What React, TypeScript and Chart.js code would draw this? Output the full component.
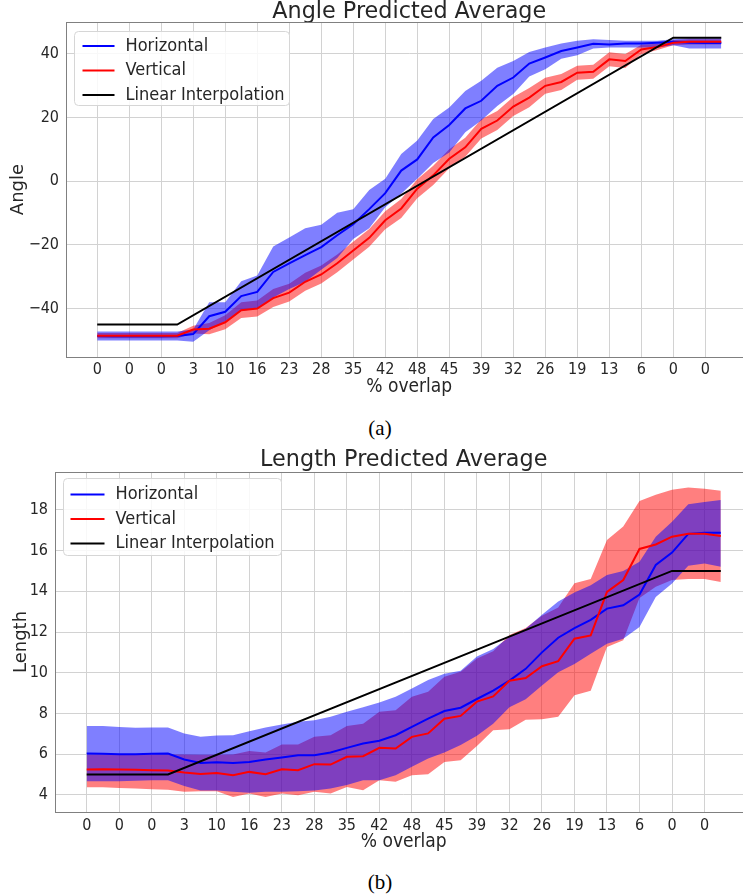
import React, { useEffect, useRef } from "react";
import { Chart, registerables } from "chart.js";
Chart.register(...registerables);

const overlapLabels = ["0", "0", "0", "3", "10", "16", "23", "28", "35", "42", "48", "45", "39", "32", "26", "19", "13", "6", "0", "0"];

// ---- Angle (a) ----
const angleH = [-48.6, -48.7, -48.7, -48.7, -48.7, -48.6, -48.0, -42.4, -41.0, -36.1, -34.8, -28.5, -25.8, -23.2, -20.7, -17.0, -13.5, -8.8, -3.8, 3.3, 6.8, 13.7, 17.6, 22.8, 25.2, 29.9, 32.5, 36.9, 38.8, 40.8, 41.9, 43.1, 42.9, 43.2, 43.2, 43.4, 43.7, 43.4, 43.3, 43.3];
const angleHUpper = [-47.2, -47.2, -47.2, -47.2, -47.2, -47.2, -46.6, -38.0, -38.0, -31.4, -29.6, -20.5, -17.7, -14.8, -13.7, -9.9, -8.8, -2.8, 0.7, 8.5, 12.7, 19.5, 23.1, 28.3, 31.5, 35.6, 37.7, 40.5, 41.9, 43.2, 44.0, 44.5, 44.3, 44.0, 44.0, 44.0, 44.5, 44.8, 44.8, 44.8];
const angleHLower = [-50.0, -50.0, -50.0, -50.0, -50.0, -50.0, -50.4, -46.8, -44.0, -40.8, -40.0, -36.5, -33.9, -31.6, -27.8, -24.1, -18.2, -14.8, -8.2, -4.0, 0.7, 5.7, 9.0, 15.3, 19.0, 23.6, 27.3, 32.8, 35.1, 38.4, 39.5, 41.6, 41.9, 41.9, 41.9, 41.9, 42.6, 41.6, 41.6, 41.6];
const angleV = [-48.5, -48.5, -48.5, -48.5, -48.5, -48.5, -46.6, -46.3, -44.3, -40.5, -40.0, -36.7, -35.0, -31.6, -29.3, -25.8, -21.8, -17.8, -12.3, -8.6, -2.4, 1.8, 7.0, 10.6, 16.4, 19.0, 23.4, 26.2, 29.9, 31.1, 34.0, 34.3, 38.2, 37.7, 41.3, 42.1, 43.4, 43.7, 43.7, 43.7];
const angleVUpper = [-47.7, -47.7, -47.7, -47.7, -47.7, -47.7, -45.4, -44.5, -42.1, -38.0, -37.5, -33.9, -32.2, -28.8, -26.5, -23.0, -19.0, -15.0, -9.5, -5.6, 0.6, 4.8, 10.0, 13.6, 19.4, 22.0, 26.4, 29.2, 32.4, 33.6, 36.2, 36.5, 40.4, 39.9, 42.8, 43.1, 44.2, 44.5, 44.5, 44.5];
const angleVLower = [-49.3, -49.3, -49.3, -49.3, -49.3, -49.3, -47.8, -48.1, -46.5, -43.0, -42.5, -39.5, -37.8, -34.4, -32.1, -28.6, -24.6, -20.6, -15.1, -11.6, -5.4, -1.2, 4.0, 7.6, 13.4, 16.0, 20.4, 23.2, 27.4, 28.6, 31.8, 32.1, 36.0, 35.5, 39.8, 41.1, 42.6, 42.9, 42.9, 42.9];

// ---- Length (b) ----
const lengthH = [6.03, 6.02, 6.0, 6.0, 6.02, 6.03, 5.74, 5.57, 5.6, 5.57, 5.62, 5.74, 5.84, 5.95, 5.95, 6.08, 6.31, 6.52, 6.66, 6.93, 7.34, 7.75, 8.12, 8.28, 8.71, 9.12, 9.61, 10.19, 11.0, 11.72, 12.19, 12.6, 13.15, 13.31, 13.84, 15.29, 15.9, 16.82, 16.88, 16.88];
const lengthHUpper = [7.38, 7.38, 7.33, 7.3, 7.31, 7.31, 7.02, 6.85, 6.92, 6.93, 7.13, 7.31, 7.46, 7.59, 7.67, 7.84, 8.08, 8.3, 8.54, 8.82, 9.23, 9.64, 9.95, 10.1, 10.8, 11.17, 11.75, 12.16, 12.85, 13.5, 13.94, 14.3, 14.8, 15.0, 15.45, 16.68, 17.42, 18.28, 18.38, 18.48];
const lengthHLower = [4.67, 4.67, 4.67, 4.7, 4.72, 4.72, 4.44, 4.21, 4.21, 4.15, 4.1, 4.15, 4.15, 4.18, 4.21, 4.31, 4.48, 4.72, 4.72, 4.97, 5.38, 5.79, 6.08, 6.45, 6.9, 7.5, 8.3, 8.7, 9.37, 10.02, 10.43, 10.93, 11.42, 11.67, 12.24, 13.72, 14.38, 15.25, 15.37, 15.2];
const lengthV = [5.25, 5.26, 5.25, 5.23, 5.21, 5.2, 5.1, 5.03, 5.08, 4.97, 5.13, 5.02, 5.26, 5.21, 5.51, 5.49, 5.87, 5.9, 6.31, 6.28, 6.85, 7.02, 7.74, 7.88, 8.58, 8.84, 9.61, 9.74, 10.32, 10.57, 11.67, 11.83, 13.97, 14.55, 16.08, 16.3, 16.68, 16.82, 16.82, 16.72];
const lengthVUpper = [5.98, 5.98, 5.98, 5.98, 5.98, 5.98, 5.98, 5.97, 5.97, 5.98, 6.15, 6.08, 6.48, 6.48, 6.85, 6.93, 7.38, 7.5, 8.08, 8.16, 8.82, 9.07, 9.8, 10.05, 10.7, 11.05, 11.85, 12.2, 12.8, 13.2, 14.4, 14.6, 16.52, 17.18, 18.44, 18.74, 18.99, 19.1, 19.04, 18.94];
const lengthVLower = [4.38, 4.38, 4.34, 4.31, 4.28, 4.25, 4.15, 4.18, 4.18, 3.9, 4.07, 3.9, 4.07, 3.98, 4.15, 4.07, 4.39, 4.23, 4.72, 4.64, 4.97, 5.02, 5.62, 5.7, 6.4, 7.18, 7.23, 7.69, 7.72, 7.84, 8.9, 9.12, 11.26, 11.59, 13.67, 14.22, 14.55, 14.6, 14.6, 14.46];

// Linear interpolation vertices (x index, value)
const linearX = [0, 5, 36, 39];
const angleLinear = [-45, -45, 45, 45];
const lengthLinear = [5, 5, 15, 15];

const COND = "'DejaVu Sans Condensed', 'DejaVu Sans', sans-serif";
const REG = "'DejaVu Sans', sans-serif";
const TEXT = "#262626";

const pts = (arr: number[]) => arr.map((y, i) => ({ x: i, y }));
const ptsXY = (xs: number[], ys: number[]) => xs.map((x, i) => ({ x, y: ys[i] }));

function legendPlugin(cfg: { dx: number; dy: number; w: number; h: number; first: number; gap: number; lx0: number; lx1: number; tx: number; size: number }) {
  const items = [
    { label: "Horizontal", color: "#0000ff" },
    { label: "Vertical", color: "#ff0000" },
    { label: "Linear Interpolation", color: "#000000" },
  ];
  return {
    id: "boxLegend",
    afterDraw(chart: any) {
      const { ctx, chartArea } = chart;
      const x = Math.round(chartArea.left + cfg.dx) + 0.5;
      const y = Math.round(chartArea.top + cfg.dy) + 0.5;
      ctx.save();
      ctx.beginPath();
      ctx.roundRect(x, y, cfg.w, cfg.h, 4);
      ctx.fillStyle = "rgba(255,255,255,0.85)";
      ctx.fill();
      ctx.strokeStyle = "#d6d6d6";
      ctx.lineWidth = 1;
      ctx.stroke();
      items.forEach((it, i) => {
        const cy = y + cfg.first + i * cfg.gap;
        ctx.beginPath();
        ctx.strokeStyle = it.color;
        ctx.lineWidth = 2;
        ctx.moveTo(x + cfg.lx0, cy);
        ctx.lineTo(x + cfg.lx1, cy);
        ctx.stroke();
        ctx.fillStyle = TEXT;
        ctx.font = `${cfg.size}px ${COND}`;
        ctx.textBaseline = "middle";
        ctx.textAlign = "left";
        ctx.fillText(it.label, x + cfg.tx, cy);
      });
      ctx.restore();
    },
  };
}

const spinePlugin = {
  id: "spines",
  afterDatasetsDraw(chart: any) {
    const { ctx, chartArea } = chart;
    ctx.save();
    ctx.strokeStyle = "#808080";
    ctx.lineWidth = 1;
    ctx.strokeRect(Math.round(chartArea.left) + 0.5, Math.round(chartArea.top) + 0.5, Math.round(chartArea.right - chartArea.left), Math.round(chartArea.bottom - chartArea.top));
    ctx.restore();
  },
};

function makeConfig(p: any) {
  const bandStyle = { borderWidth: 0, pointRadius: 0, tension: 0 };
  return {
    type: "line",
    data: {
      datasets: [
        { label: "vUpper", data: pts(p.vUpper), ...bandStyle, fill: false, order: 6 },
        { label: "vLower", data: pts(p.vLower), ...bandStyle, fill: "-1", backgroundColor: "rgba(255,0,0,0.5)", order: 6 },
        { label: "hUpper", data: pts(p.hUpper), ...bandStyle, fill: false, order: 5 },
        { label: "hLower", data: pts(p.hLower), ...bandStyle, fill: "-1", backgroundColor: "rgba(0,0,255,0.5)", order: 5 },
        { label: "Horizontal", data: pts(p.h), borderColor: "#0000ff", borderWidth: 2, pointRadius: 0, fill: false, order: 3 },
        { label: "Vertical", data: pts(p.v), borderColor: "#ff0000", borderWidth: 2, pointRadius: 0, fill: false, order: 2 },
        { label: "Linear Interpolation", data: ptsXY(linearX, p.lin), borderColor: "#000000", borderWidth: 2, pointRadius: 0, fill: false, order: 1 },
      ],
    },
    options: {
      responsive: false,
      animation: false,
      events: [],
      layout: { padding: { left: 0, right: 7.5, top: 0, bottom: 0 } },
      plugins: {
        legend: { display: false },
        tooltip: { enabled: false },
        title: {
          display: true,
          fullSize: false,
          text: p.title,
          color: TEXT,
          font: { family: REG, size: 22.3, weight: "normal", lineHeight: p.titleLH },
          padding: { top: p.titlePadTop, bottom: 0 },
        },
      },
      scales: {
        x: {
          type: "linear",
          min: -1.95,
          max: 40.95,
          afterBuildTicks: (scale: any) => {
            scale.ticks = overlapLabels.map((_, i) => ({ value: i * 2 }));
          },
          afterFit: (scale: any) => {
            scale.height = p.xHeight;
          },
          ticks: {
            autoSkip: false,
            maxRotation: 0,
            padding: p.xTickPad,
            color: TEXT,
            font: { family: COND, size: 16 },
            callback: (_v: any, i: number) => overlapLabels[i],
          },
          grid: { color: "#d2d2d2", lineWidth: 1, drawTicks: false },
          border: { display: false },
          title: {
            display: true,
            text: "% overlap",
            color: TEXT,
            font: { family: COND, size: 19, lineHeight: 1.1 },
            padding: { top: 0, bottom: p.xTitlePad },
          },
        },
        y: {
          type: "linear",
          min: p.yMin,
          max: p.yMax,
          afterFit: (scale: any) => {
            scale.width = p.yWidth;
          },
          ticks: {
            stepSize: p.step,
            includeBounds: false,
            padding: 7,
            color: TEXT,
            font: { family: COND, size: 16 },
            callback: (v: any) => String(v).replace("-", "\u2212"),
          },
          grid: { color: "#d2d2d2", lineWidth: 1, drawTicks: false },
          border: { display: false },
          title: {
            display: true,
            text: p.yTitle,
            color: TEXT,
            font: { family: REG, size: 18, lineHeight: 1.2 },
            padding: { top: p.yTitlePad, bottom: 0 },
          },
        },
      },
    },
    plugins: [spinePlugin, legendPlugin(p.legend)],
  };
}

function ChartCanvas(props: { cfg: any; top: number; width: number; height: number }) {
  const ref = useRef<HTMLCanvasElement | null>(null);
  useEffect(() => {
    if (!ref.current) return;
    const chart = new Chart(ref.current, props.cfg);
    return () => chart.destroy();
  }, []);
  return (
    <canvas
      ref={ref}
      width={props.width}
      height={props.height}
      style={{ position: "absolute", left: 0, top: props.top, width: props.width, height: props.height }}
    />
  );
}

const cfgA = makeConfig({
  title: "Angle Predicted Average",
  titleLH: 0.9,
  titlePadTop: 2,
  h: angleH, hUpper: angleHUpper, hLower: angleHLower,
  v: angleV, vUpper: angleVUpper, vLower: angleVLower,
  lin: angleLinear,
  yMin: -55.2, yMax: 49.9, step: 20,
  yTitle: "Angle", yWidth: 66, yTitlePad: 8,
  xHeight: 43, xTickPad: 3, xTitlePad: 2,
  legend: { dx: 8, dy: 9, w: 215, h: 74, first: 14.5, gap: 24.5, lx0: 8, lx1: 40, tx: 51, size: 18 },
});

const cfgB = makeConfig({
  title: "Length Predicted Average",
  titleLH: 1.03,
  titlePadTop: 0,
  h: lengthH, hUpper: lengthHUpper, hLower: lengthHLower,
  v: lengthV, vUpper: lengthVUpper, vLower: lengthVLower,
  lin: lengthLinear,
  yMin: 3.16, yMax: 19.86, step: 2,
  yTitle: "Length", yWidth: 55, yTitlePad: 11,
  xHeight: 44, xTickPad: 4, xTitlePad: 3,
  legend: { dx: 8, dy: 6, w: 218, h: 77, first: 16, gap: 24.5, lx0: 7, lx1: 41, tx: 52, size: 18 },
});

const captionStyle = (top: number): React.CSSProperties => ({
  position: "absolute",
  left: 380,
  top,
  transform: "translate(-50%, -50%)",
  fontFamily: "'Liberation Serif', 'Times New Roman', serif",
  fontSize: 21,
  color: "#000",
  whiteSpace: "nowrap",
});

export default function App() {
  return (
    <div style={{ position: "absolute", left: 0, top: 0, width: 743, height: 896, overflow: "hidden", background: "#fff" }}>
      <ChartCanvas cfg={cfgA} top={0} width={760} height={400} />
      <div style={captionStyle(428)}>(a)</div>
      <ChartCanvas cfg={cfgB} top={449} width={760} height={407} />
      <div style={captionStyle(882)}>(b)</div>
    </div>
  );
}
